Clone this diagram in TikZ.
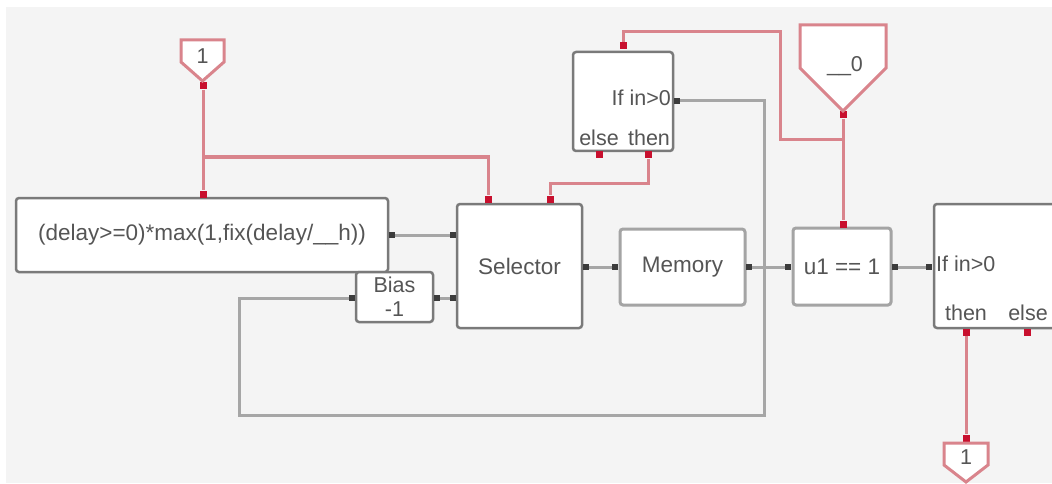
\documentclass[tikz,border=0pt]{standalone}
\usepackage{fontspec}
\setmainfont{Liberation Sans}
\definecolor{bgg}{HTML}{F4F4F4}
\definecolor{bord}{HTML}{7A7A7A}
\definecolor{bordl}{HTML}{A4A4A4}
\definecolor{glin}{HTML}{A6A6A6}
\definecolor{rlin}{HTML}{D9848C}
\definecolor{rdark}{HTML}{C8102E}
\definecolor{gdark}{HTML}{3C3C3C}
\definecolor{txt}{HTML}{555555}
\begin{document}
\begin{tikzpicture}[x=1pt,y=-1pt,
 blk/.style={draw=bord, line width=2.5pt, fill=white, rounded corners=3pt, inner sep=0pt, text=txt, font=\fontsize{22.5}{26}\selectfont},
 blkl/.style={blk, draw=bordl, line width=3pt},
 lbl/.style={text=txt, inner sep=0pt, font=\fontsize{21.5}{24}\selectfont},
 gp/.style={fill=gdark, minimum size=6pt, inner sep=0pt, draw=none},
 rp/.style={fill=rdark, minimum width=7pt, minimum height=7pt, inner sep=0pt, draw=none},
 gcon/.style={draw=glin, line width=3pt},
 rcon/.style={draw=rlin, line width=3pt},
 pshape/.style={draw=rlin, line width=3pt, fill=white, line join=miter}
]
\useasboundingbox (0,0) rectangle (1052,484);
\fill[white] (0,0) rectangle (1052,484);
\fill[bgg] (6,7) rectangle (1052,483);

% blocks
\node[blk, minimum width=372pt, minimum height=74pt] (expr) at (202,235) {(delay>=0)*max(1,fix(delay/\_\_h))};
\node[blk, minimum width=125pt, minimum height=124pt] (sel) at (519.5,266) {Selector};
\node[blk, minimum width=77pt, minimum height=50pt, align=center, font=\fontsize{21.5}{24}\selectfont] (bias) at (394.5,297) {Bias\\-1};
\node[blkl, minimum width=125pt, minimum height=76pt] (mem) at (682.5,267) {Memory};
\node[blkl, minimum width=98pt, minimum height=77pt] (u1) at (842,266.5) {u1 == 1};
\node[blk, minimum width=100pt, minimum height=99pt] (ifT) at (623,101.5) {};
\node[blk, minimum width=200pt, minimum height=124pt] (ifR) at (1034,266) {};

% block labels
\node[lbl, anchor=east] (ifTl) at (671,98) {If in>0};
\node[lbl] (ifTel) at (599,138) {else};
\node[lbl] (ifTth) at (649,138) {then};
\node[lbl, anchor=west] (ifRl) at (936,264) {If in>0};
\node[lbl] (ifRth) at (966,313) {then};
\node[lbl] (ifRel) at (1028,313) {else};

% port markers (gray)
\node[gp] (exO) at (392,235) {};
\node[gp] (selI1) at (453,235) {};
\node[gp] (biasI) at (352,298) {};
\node[gp] (biasO) at (437,298) {};
\node[gp] (selI2) at (453,298) {};
\node[gp] (selO) at (586,267) {};
\node[gp] (memI) at (615,267) {};
\node[gp] (memO) at (749,267) {};
\node[gp] (u1I) at (788,267) {};
\node[gp] (u1O) at (895,267) {};
\node[gp] (ifRI) at (929,267) {};
\node[gp] (ifTp) at (677,101) {};

% port markers (red)
\node[rp] (in1o) at (203,86) {};
\node[rp] (exT) at (203,194) {};
\node[rp] (selT1) at (488,199) {};
\node[rp] (selT2) at (550,199) {};
\node[rp] (ifTi) at (623,46) {};
\node[rp] (ifTe) at (599,155) {};
\node[rp] (ifTt) at (648,155) {};
\node[rp] (in0o) at (843,115) {};
\node[rp] (u1T) at (843,224) {};
\node[rp] (ifRt) at (966,332) {};
\node[rp] (ifRe) at (1027,332) {};
\node[rp] (o1t) at (966,438) {};

\coordinate (j1) at (203,157);
\coordinate (jm) at (764,267);
\coordinate (j0) at (843,140);

% gray connectors
\draw[gcon] (exO) -- (selI1);
\draw[gcon] (biasO) -- (selI2);
\draw[gcon] (selO) -- (memI);
\draw[gcon] (memO) -- (u1I);
\draw[gcon] (u1O) -- (ifRI);
\draw[gcon] (jm) |- (ifTp);
\draw[gcon] (jm) -- (764,415) -- (239,415) |- (biasI);

% red connectors
\draw[rcon] (in1o) -- (exT);
\draw[rcon] (j1) -| (selT1);
\draw[rcon] (ifTt) -- (648,183) -| (selT2);
\draw[rcon] (in0o) -- (u1T);
\draw[rcon] (j0) -- (780,140) -- (780,32) -| (ifTi);
\draw[rcon] (ifRt) -- (o1t);

% port pentagons
\draw[pshape] (181,40) -- (224,40) -- (224,62) -- (202.5,81) -- (181,62) -- cycle;
\node[lbl] (in1) at (202.5,56) {1};
\draw[pshape] (800,25) -- (886,25) -- (886,68) -- (843,111) -- (800,68) -- cycle;
\node[lbl] (in0) at (845,66) {\_\_0};
\draw[pshape] (944,443) -- (988,443) -- (988,465) -- (966,482) -- (944,465) -- cycle;
\node[lbl] (out1) at (966,457) {1};
\end{tikzpicture}
\end{document}
